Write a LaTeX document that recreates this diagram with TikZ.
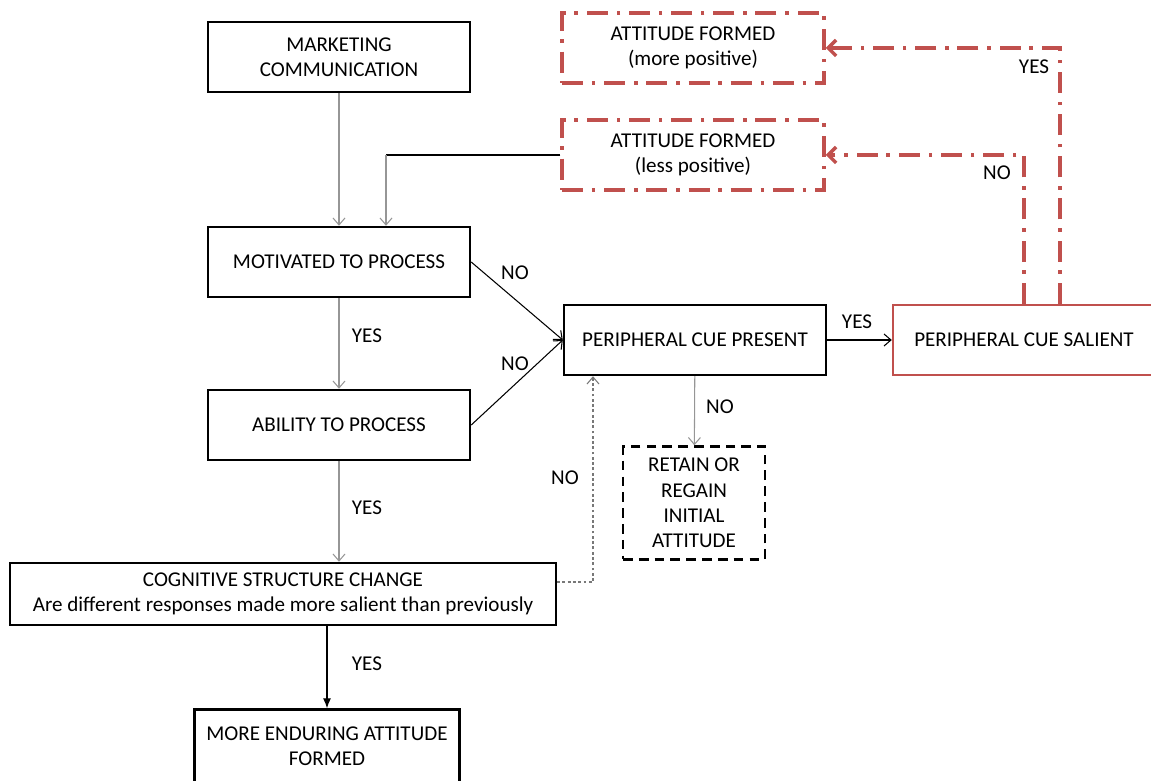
\documentclass[tikz,border=0pt]{standalone}
\usepackage{fontspec}
\setmainfont{Carlito}
\usepackage{xcolor}
\usetikzlibrary{arrows.meta, positioning}
\definecolor{cuecolor}{RGB}{192,80,77}
\definecolor{linkcolor}{RGB}{150,150,150}

\begin{document}
\begin{tikzpicture}[
    x=0.02cm, y=-0.02cm,
    font=\fontsize{12pt}{14.4pt}\selectfont,
    stage/.style={draw, line width=1.4pt, minimum width=5.24cm, minimum height=1.4cm, align=center, inner sep=0pt},
    cue/.style={draw=cuecolor, line width=1.4pt, minimum width=5.24cm, minimum height=1.4cm, align=center, inner sep=0pt},
    attitude/.style={draw=cuecolor, line width=2pt, dash pattern=on 12pt off 5pt on 2pt off 5pt, minimum width=5.24cm, minimum height=1.4cm, align=center, inner sep=0pt},
    keep/.style={draw, line width=1.4pt, dash pattern=on 5.5pt off 3.5pt, minimum width=2.84cm, minimum height=2.26cm, align=center, inner sep=0pt},
    flow/.style={-{Straight Barb[length=1.4mm, width=2.4mm]}, line width=0.6pt},
    grayflow/.style={flow, linkcolor},
    dotflow/.style={flow, dash pattern=on 1.6pt off 1.4pt, linkcolor!80!black},
    cueflow/.style={-{Straight Barb[length=1.6mm, width=3.2mm]}, cuecolor, line width=2pt, dash pattern=on 12pt off 5pt on 2pt off 5pt}
]
    \useasboundingbox (0,0) rectangle (1151,780);

    % left column
    \node[stage] (market) at (339,57) {MARKETING\\COMMUNICATION};
    \node[stage] (motiv) at (339,262) {MOTIVATED TO PROCESS};
    \node[stage] (ability) at (339,425) {ABILITY TO PROCESS};
    \node[stage, minimum width=10.92cm, minimum height=1.24cm] (cog) at (283,594) {COGNITIVE STRUCTURE CHANGE\\Are different responses made more salient than previously};
    \node[stage, minimum width=5.3cm, minimum height=1.46cm] (endur) at (327,746) {MORE ENDURING ATTITUDE\\FORMED};

    % peripheral route
    \node[stage] (cuepres) at (695,340) {PERIPHERAL CUE PRESENT};
    \node[cue] (cuesal) at (1024,340) {PERIPHERAL CUE SALIENT};
    \node[keep] (retain) at (694,503) {RETAIN OR\\REGAIN\\INITIAL\\ATTITUDE};
    \node[attitude] (morepos) at (693,48) {ATTITUDE FORMED\\(more positive)};
    \node[attitude] (lesspos) at (693,155) {ATTITUDE FORMED\\(less positive)};

    \coordinate (feedback) at (386,0);
    \coordinate (dotturn) at (593,582);
    \coordinate (yesturn) at (1060,0);

    \draw[grayflow] (market) -- (motiv);
    \draw[grayflow] (motiv) -- (ability);
    \draw[grayflow] (ability) -- (cog.north -| ability);
    \draw[-{Latex[length=2mm, width=1.6mm]}, line width=0.6pt] (cog.south -| endur.north) -- (endur.north);
    \draw[line width=0.6pt] (lesspos.west) -- (feedback |- lesspos.west);
    \draw[grayflow] (feedback |- lesspos.west) -- (feedback |- motiv.north);
    \draw[flow] (motiv.east) -- (cuepres.west);
    \draw[flow] (ability.east) -- (cuepres.west);
    \draw[dotflow] (cog.east |- dotturn) -| (cuepres.south -| dotturn);
    \draw[grayflow] (cuepres) -- (retain);
    \draw[flow] (cuepres) -- (cuesal);
    \draw[cueflow] (cuesal.north) |- (lesspos.east);
    \draw[cueflow] (cuesal.north -| yesturn) |- (morepos.east);

    % labels
    \node (yesmotiv) at (367,336) {YES};
    \node (yesability) at (367,508) {YES};
    \node (yescog) at (367,664) {YES};
    \node (nomotiv) at (515,273) {NO};
    \node (noability) at (515,364) {NO};
    \node (nocog) at (565,478) {NO};
    \node (nocue) at (720,407) {NO};
    \node (yescue) at (857,322) {YES};
    \node (nosal) at (997,173) {NO};
    \node (yessal) at (1034,67) {YES};
\end{tikzpicture}
\end{document}
